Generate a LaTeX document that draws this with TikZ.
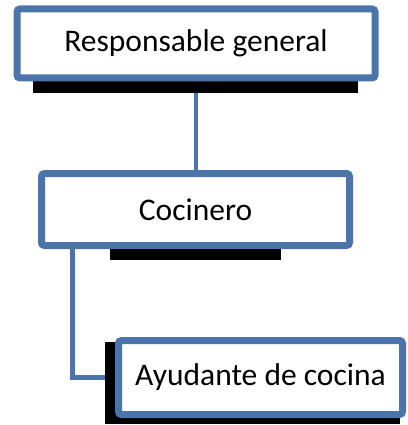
\documentclass[tikz,border=0pt]{standalone}
\usepackage{fontspec}
\setmainfont{Carlito}
\usetikzlibrary{shadows}
\definecolor{boxblue}{RGB}{74,116,170}
\tikzset{
  orgbox/.style={draw=boxblue, line width=7pt, fill=white, rounded corners=3pt,
    inner sep=0pt, font=\fontsize{31.5}{36}\selectfont, text=black,
    drop shadow={opacity=0.25, shadow xshift=1pt, shadow yshift=-2pt}},
  link/.style={draw=boxblue, line width=4.5pt},
  bar/.style={fill=black}
}
\begin{document}
\begin{tikzpicture}[x=1pt,y=1pt]
\useasboundingbox (0,0) rectangle (407,-425);
% connectors
\coordinate (c1) at (196,-80);
\coordinate (c2) at (196,-175);
\draw[link] (c1) -- (c2);
\coordinate (c3) at (72.5,-245);
\coordinate (c4) at (118,-377.5);
\draw[link] (c3) |- (c4);
% black bars
\fill[bar] (33,-60) rectangle (358,-93);
\fill[bar] (110,-230) rectangle (281,-260);
\fill[bar] (105,-342) rectangle (400,-424);
% boxes
\node[orgbox, minimum width=358pt, minimum height=69pt] (rg) at (196,-43.5) {Responsable general};
\node[orgbox, minimum width=308pt, minimum height=72pt] (coc) at (195.5,-209.5) {Cocinero};
\node[orgbox, minimum width=284pt, minimum height=74pt] (ay) at (260.5,-377.5) {Ayudante de cocina};
\end{tikzpicture}
\end{document}
